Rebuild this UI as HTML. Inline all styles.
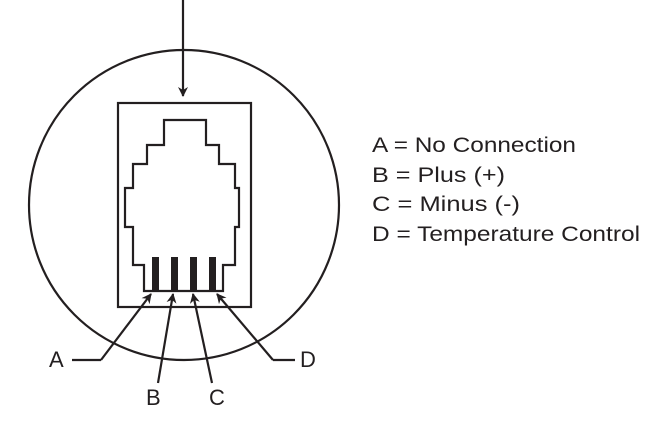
<!DOCTYPE html>
<html><head><meta charset="utf-8"><style>
html,body{margin:0;padding:0;background:#fff;}
svg{display:block;}
text{font-family:"Liberation Sans","DejaVu Sans",sans-serif;fill:#231f20;}
</style></head><body>
<svg width="650" height="423" viewBox="0 0 650 423" xmlns="http://www.w3.org/2000/svg">
<defs>
<marker id="ah" markerWidth="10" markerHeight="10" refX="9" refY="5" orient="auto" markerUnits="userSpaceOnUse">
<path d="M0,0 L10,5 L0,10 L3,5 Z" fill="#231f20"/>
</marker>
</defs>
<g stroke="#231f20" stroke-width="2.2" fill="none">
<circle cx="184" cy="205" r="155"/>
<line x1="183" y1="0" x2="183" y2="96" marker-end="url(#ah)"/>
<rect x="118" y="103" width="133" height="204"/>
<path d="M164,120 H206 V145 H219 V164 H235 V188 H239 V227 H235 V265 H223 V291 H144 V265 H133 V227 H125 V188 H133 V164 H147 V145 H164 Z"/>
<line x1="72" y1="360" x2="101" y2="360"/>
<line x1="101" y1="360" x2="151" y2="294" marker-end="url(#ah)"/>
<line x1="158" y1="383" x2="173" y2="294" marker-end="url(#ah)"/>
<line x1="212" y1="383" x2="193" y2="294" marker-end="url(#ah)"/>
<line x1="295" y1="360" x2="273" y2="360"/>
<line x1="273" y1="360" x2="217" y2="294" marker-end="url(#ah)"/>
</g>
<g fill="#231f20">
<rect x="152" y="257" width="7" height="34"/>
<rect x="171" y="257" width="7" height="34"/>
<rect x="190" y="257" width="7" height="34"/>
<rect x="209" y="257" width="7" height="34"/>
</g>
<g font-size="22">
<text x="49" y="367">A</text>
<text x="146" y="405">B</text>
<text x="209" y="405">C</text>
<text x="300" y="367">D</text>
</g>
<g font-size="21">
<text x="372" y="152" textLength="204" lengthAdjust="spacingAndGlyphs">A = No Connection</text>
<text x="372" y="182" textLength="133" lengthAdjust="spacingAndGlyphs">B = Plus (+)</text>
<text x="372" y="211" textLength="148" lengthAdjust="spacingAndGlyphs">C = Minus (-)</text>
<text x="372" y="241" textLength="268" lengthAdjust="spacingAndGlyphs">D = Temperature Control</text>
</g>
</svg>
</body></html>
